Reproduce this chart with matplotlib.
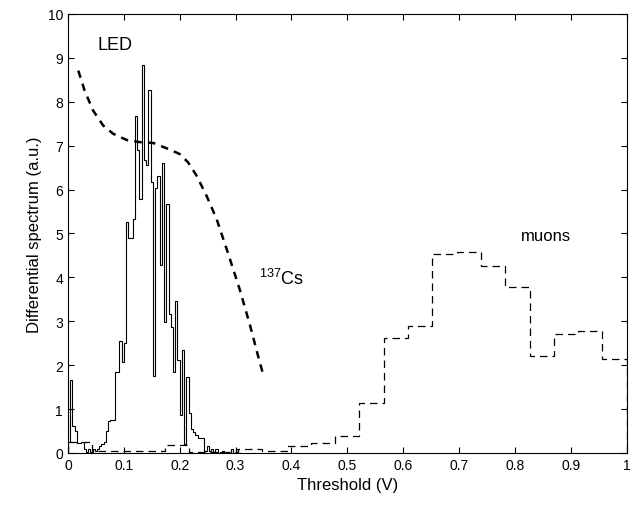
import numpy as np
import matplotlib.pyplot as plt

plt.rcParams['font.family'] = ['Liberation Sans', 'DejaVu Sans']

# LED histogram, bin width 0.004 V starting at 0
led_width = 0.004
led_counts = [0.25, 1.65, 0.62, 0.5, 0.22, 0.22, 0.25, 0.08, 0.02, 0.1,
              0.02, 0.08, 0.05, 0.1, 0.15, 0.2, 0.25, 0.5, 0.72, 0.74,
              0.74, 1.84, 1.84, 2.56, 2.08, 2.5, 5.26, 4.9, 4.9, 5.34,
              7.67, 6.9, 5.79, 8.84, 6.67, 6.56, 8.27, 6.17, 1.76, 6.03,
              6.32, 4.27, 6.6, 2.98, 5.68, 3.17, 2.87, 1.84, 3.46, 2.11,
              0.86, 2.35, 0.2, 1.72, 0.9, 0.55, 0.47, 0.4, 0.35, 0.35,
              0.35, 0.05, 0.15, 0.05, 0.1, 0.02, 0.1, 0.0, 0.02, 0.05,
              0.0, 0.02, 0.0, 0.08, 0.0, 0.1, 0.0]

# muon histogram, 23 bins over 0..1
muon_counts = [0.25, 0.05, 0.05, 0.05, 0.18, 0.02, 0.03, 0.1, 0.04, 0.15,
               0.22, 0.38, 1.14, 2.61, 2.90, 4.53, 4.57, 4.25, 3.77, 2.20,
               2.71, 2.78, 2.13]

# 137Cs curve
cs_x = [0.0185, 0.030, 0.045, 0.063, 0.081, 0.105, 0.129, 0.153, 0.1765,
        0.200, 0.215, 0.230, 0.248, 0.266, 0.287, 0.308, 0.326, 0.340, 0.349]
cs_y = [8.71, 8.25, 7.80, 7.46, 7.27, 7.13, 7.08, 7.06, 6.94,
        6.81, 6.62, 6.32, 5.86, 5.33, 4.53, 3.70, 2.90, 2.22, 1.80]

led_edges = np.arange(len(led_counts) + 1) * led_width
muon_edges = np.linspace(0, 1, len(muon_counts) + 1)

fig = plt.figure(figsize=(6.35, 5.1), dpi=100)
ax = fig.add_axes([0.107, 0.11, 0.88, 0.8606])

ax.stairs(led_counts, led_edges, color='black', linewidth=0.8)
ax.stairs(muon_counts, muon_edges, color='black', linewidth=0.9,
          linestyle=(0, (6, 4)))
ax.plot(cs_x, cs_y, color='black', linewidth=1.8, linestyle=(0, (3, 2.5)))

ax.text(0.084, 9.3, 'LED', fontsize=13, ha='center', va='center')
ax.text(0.383, 3.85, '$^{\\mathregular{137}}$Cs', fontsize=13,
        ha='center', va='baseline')
ax.text(0.855, 4.85, 'muons', fontsize=12, ha='center', va='baseline')

ax.set_xlim(0, 1)
ax.set_ylim(0, 10)
ax.set_xticks(np.arange(0, 1.01, 0.1))
ax.set_xticklabels(['0', '0.1', '0.2', '0.3', '0.4', '0.5', '0.6', '0.7',
                    '0.8', '0.9', '1'])
ax.set_yticks(range(0, 11))
ax.tick_params(direction='in', top=True, right=True, labelsize=10, length=4)
ax.set_xlabel('Threshold (V)', fontsize=12)
ax.set_ylabel('Differential spectrum (a.u.)', fontsize=12)

fig.savefig('out.png', dpi=100)
